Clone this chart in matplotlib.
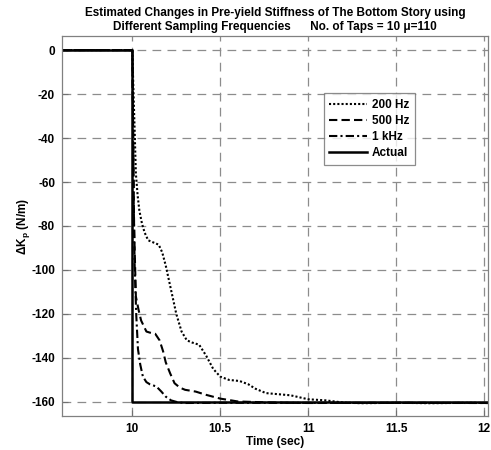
import matplotlib
matplotlib.use('Agg')
import matplotlib.pyplot as plt

plt.rcParams['font.family'] = ['Liberation Sans', 'DejaVu Sans']
plt.rcParams['mathtext.fontset'] = 'custom'
plt.rcParams['mathtext.rm'] = 'Liberation Sans'
plt.rcParams['mathtext.it'] = 'Liberation Sans:italic'
plt.rcParams['mathtext.bf'] = 'Liberation Sans:bold'
plt.rcParams['axes.unicode_minus'] = False

# 200 Hz
t_200 = [9.6, 10.0, 10.005, 10.013, 10.02, 10.03, 10.04, 10.055, 10.07, 10.09, 10.12, 10.15,
         10.17, 10.19, 10.22, 10.25, 10.28, 10.31, 10.34, 10.38, 10.42, 10.46, 10.5, 10.55,
         10.61, 10.66, 10.7, 10.76, 10.83, 10.9, 11.0, 11.1, 11.2, 11.3, 11.5, 11.7, 11.9, 12.03]
k_200 = [0, 0, -15, -36, -56, -66, -73, -79, -83, -86.5, -87.5, -88.5,
         -92, -98, -109, -120, -128, -132, -133, -134, -139, -145, -148.5, -150,
         -150.5, -152, -154, -156, -156.5, -157, -158.8, -159.3, -160.3, -160.6, -160.4, -160.6, -160.4, -160.5]

# 500 Hz
t_500 = [9.6, 10.0, 10.005, 10.01, 10.02, 10.035, 10.05, 10.08, 10.1, 10.13, 10.155, 10.175,
         10.19, 10.215, 10.24, 10.27, 10.3, 10.36, 10.42, 10.5, 10.6, 10.8, 11.0, 11.5, 12.03]
k_500 = [0, 0, -40, -80, -112, -118, -123, -128, -128.5, -129, -132, -137,
         -142, -147, -151.5, -153.5, -154.5, -155.3, -156.8, -158.5, -159.8, -160.3, -160.5, -160.4, -160.5]

# 1 kHz
t_1k = [9.6, 10.0, 10.004, 10.008, 10.013, 10.022, 10.032, 10.045, 10.06, 10.08, 10.1, 10.137,
        10.165, 10.19, 10.22, 10.26, 10.3, 10.5, 12.03]
k_1k = [0, 0, -35, -70, -97, -120, -136, -143, -148.5, -151, -152, -153,
        -155.3, -157.6, -159.3, -160.2, -160.5, -160.4, -160.5]

# Actual
t_act = [9.6, 10.0, 10.0, 12.03]
k_act = [0, 0, -160, -160]

xticks = [10, 10.5, 11, 11.5, 12]
yticks = [0, -20, -40, -60, -80, -100, -120, -140, -160]

fig = plt.figure(figsize=(4.91, 4.5), dpi=100)
ax = fig.add_axes([0.1263, 0.0756, 0.8676, 0.8444])

ax.plot(t_200, k_200, color='black', lw=1.5, ls=(0, (1, 1)), label='200 Hz')
ax.plot(t_500, k_500, color='black', lw=1.5, ls=(0, (4, 2)), label='500 Hz')
ax.plot(t_1k, k_1k, color='black', lw=1.5, ls=(0, (4, 1.5, 1, 1.5)), label='1 kHz')
ax.plot(t_act, k_act, color='black', lw=1.8, ls='-', label='Actual')

ax.set_xlim(9.6, 12.023)
ax.set_ylim(-166.4, 6.4)
ax.set_xticks(xticks)
ax.set_xticklabels(['10', '10.5', '11', '11.5', '12'])
ax.set_yticks(yticks)
ax.tick_params(direction='in', length=4, color='#707070', labelsize=8.5, pad=5)
for lab in ax.get_xticklabels() + ax.get_yticklabels():
    lab.set_fontweight('bold')
for s in ax.spines.values():
    s.set_color('#808080')
    s.set_linewidth(0.9)
ax.grid(True, color='#8c8c8c', ls=(0, (7, 5)), lw=0.9)

ax.set_xlabel('Time (sec)', fontsize=8.5, fontweight='bold', labelpad=1)
ax.set_ylabel(r'$\mathbf{\Delta K_p}$ (N/m)', fontsize=8.5, fontweight='bold')
ax.yaxis.set_label_coords(-0.07, 0.5)
ax.set_title('Estimated Changes in Pre-yield Stiffness of The Bottom Story using\n'
             'Different Sampling Frequencies      No. of Taps = 10 \u03bc=110',
             fontsize=8.5, fontweight='bold', pad=4, linespacing=1.3)

leg = ax.legend(loc='upper right', bbox_to_anchor=(0.843, 0.866), fontsize=8.5,
                handlelength=3.2, frameon=True, fancybox=False, borderpad=0.5,
                labelspacing=0.35, handletextpad=0.4)
leg.get_frame().set_edgecolor('#707070')
leg.get_frame().set_linewidth(0.9)
for t in leg.get_texts():
    t.set_fontweight('bold')

fig.savefig('out.png', dpi=100)
